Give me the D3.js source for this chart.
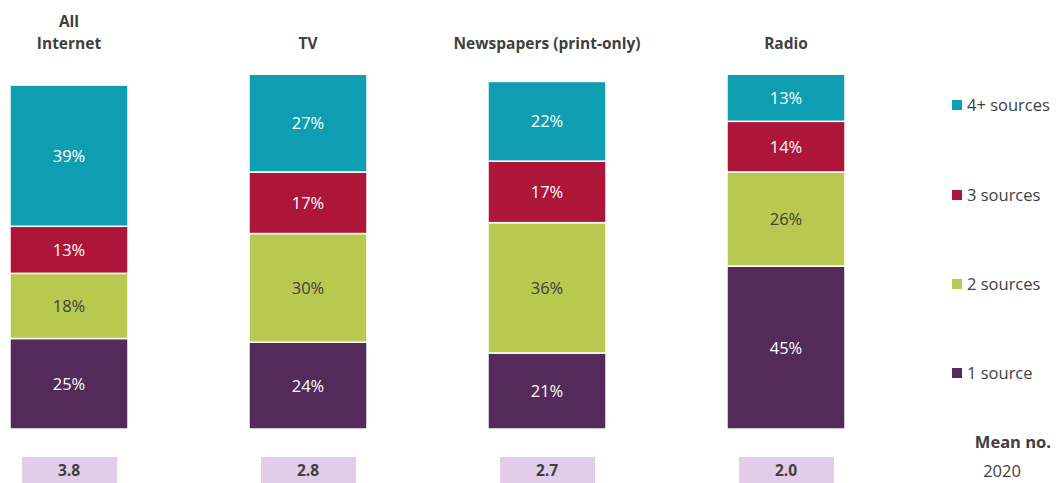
<!DOCTYPE html>
<html><head><meta charset="utf-8">
<script src="https://cdn.jsdelivr.net/npm/d3@7"></script>
<style>body{margin:0;background:#fff}svg{display:block}</style>
</head><body>
<svg id="c" width="1058" height="483"></svg>
<script>
const categories = ["All Internet", "TV", "Newspapers (print-only)", "Radio"];
const seriesNames = ["1 source", "2 sources", "3 sources", "4+ sources"];
const oneSource = [25, 24, 21, 45];
const twoSources = [18, 30, 36, 26];
const threeSources = [13, 17, 17, 14];
const fourPlus = [39, 27, 22, 13];
const means = ["3.8", "2.8", "2.7", "2.0"];
const colors = ["#532a5a", "#b7c94f", "#ad1539", "#0f9db2"];
const textColors = ["#ffffff", "#404040", "#ffffff", "#ffffff"];

const svg = d3.select("#c");
const font = "Open Sans, Liberation Sans, sans-serif";
const x = d3.scaleBand().domain(categories).range([10, 845]).paddingInner(0.5063).paddingOuter(0);
const y = d3.scaleLinear().domain([0, 100]).range([429, 67]);

const rows = categories.map((c, i) => ({cat: c, "1 source": oneSource[i], "2 sources": twoSources[i], "3 sources": threeSources[i], "4+ sources": fourPlus[i]}));
const stack = d3.stack().keys(seriesNames)(rows);

stack.forEach((layer, li) => {
  const g = svg.append("g");
  layer.forEach(d => {
    const x0 = x(d.data.cat), w = x.bandwidth();
    g.append("rect").attr("x", x0).attr("width", w)
      .attr("y", y(d[1])).attr("height", y(d[0]) - y(d[1]))
      .attr("fill", colors[li]).attr("stroke", "#fff").attr("stroke-width", 1.5);
    g.append("text").attr("x", x0 + w / 2).attr("y", (y(d[0]) + y(d[1])) / 2 + 6)
      .attr("text-anchor", "middle").attr("font-family", font).attr("font-size", 16.5)
      .attr("fill", textColors[li]).text((d[1] - d[0]) + "%");
  });
});

// category titles
categories.forEach(c => {
  const cx = x(c) + x.bandwidth() / 2;
  const lines = c === "All Internet" ? ["All", "Internet"] : [c];
  lines.forEach((t, i) => {
    svg.append("text").attr("x", cx).attr("y", 49 - (lines.length - 1 - i) * 22)
      .attr("text-anchor", "middle").attr("font-family", font).attr("font-weight", "bold")
      .attr("font-size", 15.5).attr("fill", "#404040").text(t);
  });
});

// mean boxes
categories.forEach((c, i) => {
  const cx = x(c) + x.bandwidth() / 2;
  svg.append("rect").attr("x", cx - 47).attr("y", 457).attr("width", 95).attr("height", 26).attr("fill", "#e2cce8");
  svg.append("text").attr("x", cx).attr("y", 476).attr("text-anchor", "middle")
    .attr("font-family", font).attr("font-weight", "bold").attr("font-size", 15.5)
    .attr("fill", "#404040").text(means[i]);
});

// legend
const legendY = [373, 284, 195, 105];
seriesNames.forEach((s, i) => {
  svg.append("rect").attr("x", 952).attr("y", legendY[i] - 5).attr("width", 10).attr("height", 10).attr("fill", colors[i]);
  svg.append("text").attr("x", 967).attr("y", legendY[i] + 6).attr("font-family", font)
    .attr("font-size", 16.5).attr("fill", "#404040").text(s);
});

svg.append("text").attr("x", 1051).attr("y", 448).attr("text-anchor", "end").attr("font-family", font)
  .attr("font-weight", "bold").attr("font-size", 16.5).attr("fill", "#404040").text("Mean no.");
svg.append("text").attr("x", 1002).attr("y", 477).attr("text-anchor", "middle").attr("font-family", font)
  .attr("font-size", 16.5).attr("fill", "#404040").text("2020");
</script>
</body></html>
